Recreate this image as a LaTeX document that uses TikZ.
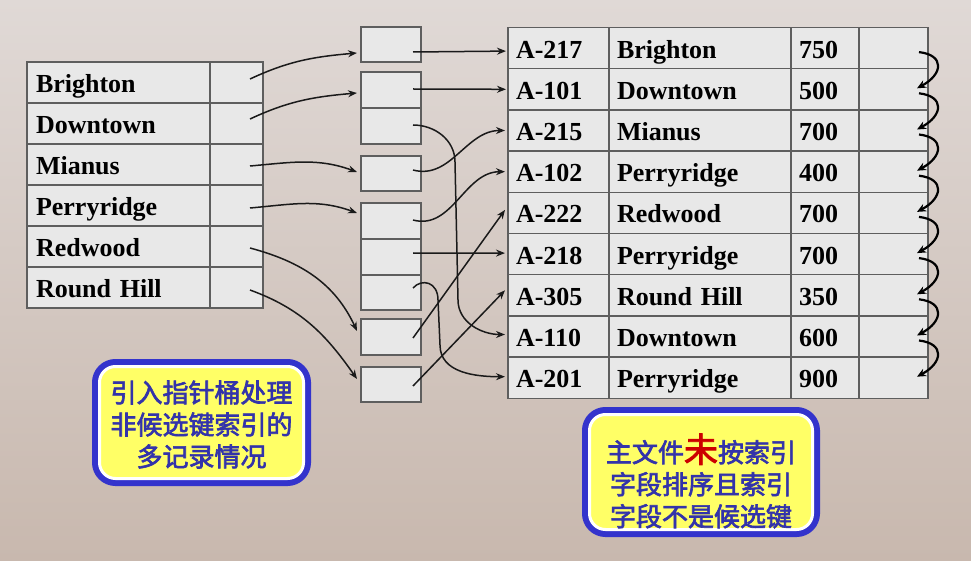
\documentclass[tikz,border=0pt]{standalone}
\usepackage{fontspec}
\setmainfont{Liberation Serif}
\newfontfamily\cjk{Noto Sans CJK SC}[AutoFakeBold=2.5]
\usetikzlibrary{arrows.meta,calc}
\definecolor{bgtop}{HTML}{E0D9D6}
\definecolor{bgbot}{HTML}{C8B8AE}
\definecolor{cellfill}{HTML}{E8E8E8}
\definecolor{cellline}{HTML}{5E5E5E}
\definecolor{arrowcol}{HTML}{1A1A1A}
\definecolor{boxblue}{HTML}{3333CC}
\definecolor{txtblue}{HTML}{3333AA}
\definecolor{boxyellow}{HTML}{FFFF66}
\definecolor{mired}{HTML}{CC0000}
\tikzset{
  tcell/.style={draw=cellline, fill=cellfill, line width=1.3pt, anchor=north west,
    inner xsep=9pt, inner ysep=0pt, outer sep=0pt, minimum height=41pt, align=left,
    text height=30.5pt, text depth=10.5pt,
    font=\fontsize{26}{30}\selectfont\bfseries},
  rcell/.style={tcell, minimum height=41.2pt, text height=30.7pt, inner xsep=8pt},
  bcell/.style={draw=cellline, fill=cellfill, line width=1.3pt, anchor=north west,
    inner sep=0pt, outer sep=0pt, minimum width=60pt},
  arr/.style={draw=arrowcol, line width=1.5pt, -{Stealth[length=9pt,width=7pt]}},
  warr/.style={draw=black, line width=2.2pt, -{Stealth[length=9pt,width=8pt]}},
  callout/.style={fill=boxyellow, draw=white, line width=3pt, rounded corners=16pt,
    preaction={draw=boxblue, line width=15pt, rounded corners=16pt},
    inner sep=0pt, outer sep=0pt},
  callouttext/.style={align=center, text=txtblue, font=\cjk\bfseries\fontsize{26}{32}\selectfont}
}
\begin{document}
\begin{tikzpicture}[x=1pt,y=1pt]
\useasboundingbox (0,0) rectangle (971,-561);
\shade[top color=bgtop, bottom color=bgbot] (0,0) rectangle (971,-561);

% left index table
\foreach \i/\nm in {1/Brighton,2/Downtown,3/Mianus,4/Perryridge,5/Redwood,6/Round Hill}{
  \pgfmathsetmacro{\ty}{-62-41*(\i-1)}
  \node[tcell, text width=165pt] (ln\i) at (27,\ty) {\nm};
  \node[tcell, text width=35pt] (lp\i) at (210,\ty) {};
}

% buckets
\node[bcell, minimum height=35pt] (b1) at (361,-27) {};
\node[bcell, minimum height=36pt] (b2a) at (361,-72) {};
\node[bcell, minimum height=36pt] (b2b) at (361,-108) {};
\node[bcell, minimum height=35pt] (b3) at (361,-156) {};
\node[bcell, minimum height=36pt] (b4a) at (361,-203) {};
\node[bcell, minimum height=36pt] (b4b) at (361,-239) {};
\node[bcell, minimum height=35pt] (b4c) at (361,-275) {};
\node[bcell, minimum height=36pt] (b5) at (361,-319) {};
\node[bcell, minimum height=35pt] (b6) at (361,-367) {};

% right file table
\foreach \i/\id/\br/\bal in {1/A-217/Brighton/750,2/A-101/Downtown/500,3/A-215/Mianus/700,
  4/A-102/Perryridge/400,5/A-222/Redwood/700,6/A-218/Perryridge/700,7/A-305/Round Hill/350,
  8/A-110/Downtown/600,9/A-201/Perryridge/900}{
  \pgfmathsetmacro{\ty}{-27.5-41.2*(\i-1)}
  \node[rcell, text width=85pt] (rid\i) at (508,\ty) {\id};
  \node[rcell, text width=166pt] (rbr\i) at (609,\ty) {\br};
  \node[rcell, text width=52pt] (rbal\i) at (791,\ty) {\bal};
  \node[rcell, text width=53pt] (rp\i) at (859,\ty) {};
}

% index -> buckets
\draw[arr] ($(lp1.center)+(13.5,3.5)$) to[out=25,in=185] ($(b1.west)+(-4,-8.5)$);
\draw[arr] ($(lp2.center)+(13.5,4.5)$) to[out=25,in=185] ($(b2a.west)+(-4,-3)$);
\draw[arr] ($(lp3.center)+(13.5,-1.5)$) to[out=5,in=160] ($(b3.west)+(-4,1.5)$);
\draw[arr] ($(lp4.center)+(13.5,-2.5)$) to[out=5,in=160] ($(b4a.west)+(-4,8)$);
\draw[arr] ($(lp5.center)+(13.5,-1.5)$) to[out=-15,in=115] ($(b5.west)+(-4,6)$);
\draw[arr] ($(lp6.center)+(13.5,-2.5)$) to[out=-20,in=125] ($(b6.west)+(-4,5.5)$);

% buckets -> file
\draw[arr] ($(b1.east)+(-8,-7.5)$) -- ($(rid1.west)+(-2,-3)$);
\draw[arr] ($(b2a.east)+(-8,1)$) -- ($(rid2.west)+(-2,0)$);
\draw[arr] ($(b2b.east)+(-8,1)$) to[out=0,in=90] (455,-162) -- (458,-300)
  to[out=-90,in=180] ($(rid8.west)+(-3,2)$);
\draw[arr] ($(b3.east)+(-8,3.5)$) to[out=-15,in=180] ($(rid3.west)+(-3,0)$);
\draw[arr] ($(b4a.east)+(-8,1)$) to[out=-15,in=180] ($(rid4.west)+(-3,0)$);
\draw[arr] ($(b4b.east)+(-8,4)$) -- ($(rid6.west)+(-3,1)$);
\draw[arr] ($(b4c.east)+(-8,4.5)$) .. controls (422,-278) and (438,-282) .. (438,-300)
  -- (440,-345) to[out=-90,in=180] ($(rid9.west)+(-3,1)$);
\draw[arr] ($(b5.east)+(-8,-1)$) -- ($(rid5.west)+(-3,3)$);
\draw[arr] ($(b6.east)+(-8,-1.5)$) -- ($(rid7.west)+(-3,5)$);

% chain pointers
\foreach \i [evaluate=\i as \j using int(\i+1)] in {1,...,8}{
  \draw[warr] ($(rp\i.center)+(25.5,-4)$) .. controls +(26,-3) and +(26,14) ..
    ($(rp\j.center)+(23.5,1)$);
}

% callouts
\node[callout, minimum width=204pt, minimum height=112pt] (lbox) at (201.5,-422.5) {};
\node[callouttext] (ltext) at (201.5,-424.5) {引入指针桶处理\\非候选键索引的\\多记录情况};
\node[callout, minimum width=223pt, minimum height=115pt] (rbox) at (701,-472) {};
\node[callouttext] (rtext) at (701,-481) {主文件{\color{mired}\fontsize{34}{32}\selectfont 未}按索引\\字段排序且索引\\字段不是候选键};
\end{tikzpicture}
\end{document}
